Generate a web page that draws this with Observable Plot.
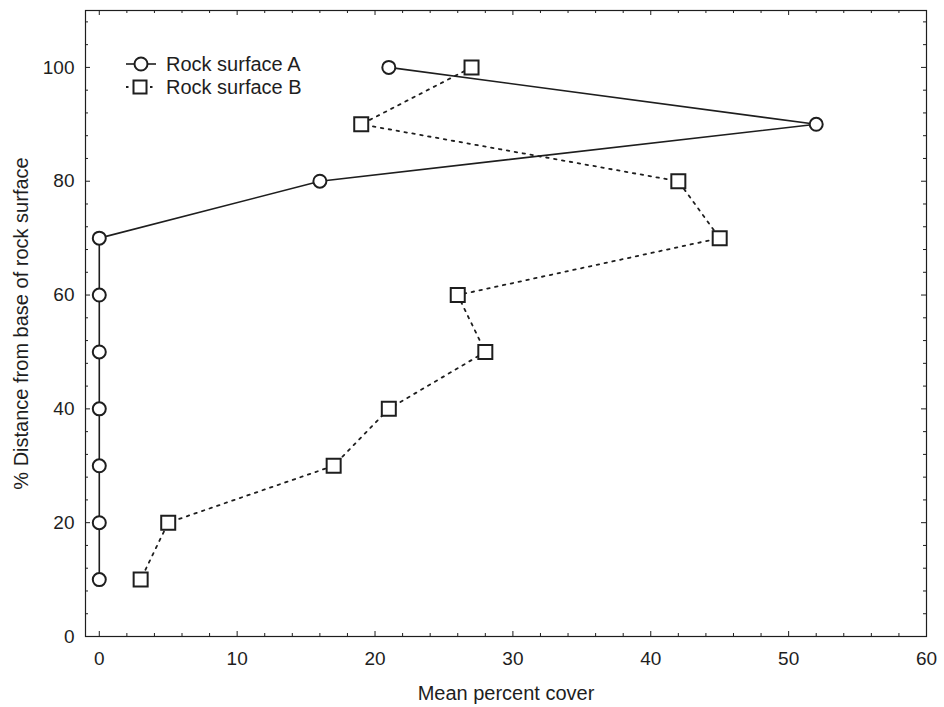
<!DOCTYPE html>
<html><head><meta charset="utf-8">
<script src="https://cdn.jsdelivr.net/npm/d3@7"></script>
<script src="https://cdn.jsdelivr.net/npm/@observablehq/plot@0.6"></script>
<style>
body{margin:0;background:#fff;}
svg{font-family:"Liberation Sans",Arial,Helvetica,sans-serif;}
</style>
</head><body><div id="chart"></div>
<script>
// ---- data ----
const distance = [100, 90, 80, 70, 60, 50, 40, 30, 20, 10];
const coverA   = [21, 52, 16, 0, 0, 0, 0, 0, 0, 0];
const coverB   = [27, 19, 42, 45, 26, 28, 21, 17, 5, 3];
const seriesNames = ["Rock surface A", "Rock surface B"];
const xTicks = [0, 10, 20, 30, 40, 50, 60];
const yTicks = [0, 20, 40, 60, 80, 100];
const xMinor = d3.range(0, 61, 2).filter(v => v % 10 !== 0);
const yMinor = d3.range(0, 110, 4).filter(v => v % 20 !== 0);
const xTitle = "Mean percent cover";
const yTitle = "% Distance from base of rock surface";

// ---- layout ----
const W = 944, H = 707, mL = 85, mR = 18, mT = 10, mB = 71;
const iw = W - mL - mR, ih = H - mT - mB;
const ink = "#1e1e1e";
const major = 5, minor = 3;

const A = distance.map((d, i) => ({x: coverA[i], y: d}));
const B = distance.map((d, i) => ({x: coverB[i], y: d}));

const plot = Plot.plot({
  width: W, height: H,
  marginLeft: mL, marginRight: mR, marginTop: mT, marginBottom: mB,
  style: {fontFamily: '"Liberation Sans", Arial, sans-serif', fontSize: "19px", color: ink, background: "#fff"},
  x: {domain: [-1, 60]},
  y: {domain: [0, 110]},
  marks: [
    Plot.frame({stroke: ink, strokeWidth: 1.2}),
    // inward ticks: bottom & top
    Plot.ruleX(xTicks, {insetTop: ih - major, stroke: ink}),
    Plot.ruleX(xMinor, {insetTop: ih - minor, stroke: ink}),
    Plot.ruleX(xTicks, {insetBottom: ih - major, stroke: ink}),
    Plot.ruleX(xMinor, {insetBottom: ih - minor, stroke: ink}),
    // inward ticks: left & right
    Plot.ruleY(yTicks, {insetRight: iw - major, stroke: ink}),
    Plot.ruleY(yMinor, {insetRight: iw - minor, stroke: ink}),
    Plot.ruleY(yTicks, {insetLeft: iw - major, stroke: ink}),
    Plot.ruleY(yMinor, {insetLeft: iw - minor, stroke: ink}),
    Plot.axisX(xTicks, {anchor: "bottom", tickSize: 0, tickPadding: 15, fontSize: 19, label: null}),
    Plot.axisY(yTicks, {anchor: "left", tickSize: 0, tickPadding: 11, fontSize: 19, label: null}),
    // axis titles
    Plot.text([xTitle], {frameAnchor: "bottom", dy: 57, text: d => d, fontSize: 20, fill: ink,
      textAnchor: "middle", lineAnchor: "middle"}),
    Plot.text([yTitle], {frameAnchor: "left", dx: -64, rotate: -90, text: d => d, fontSize: 20, fill: ink,
      textAnchor: "middle", lineAnchor: "middle"}),
    Plot.line(A, {x: "x", y: "y", stroke: ink, strokeWidth: 1.6}),
    Plot.line(B, {x: "x", y: "y", stroke: ink, strokeWidth: 1.8, strokeDasharray: "2.5,5.5"}),
    Plot.dot(A, {x: "x", y: "y", symbol: "circle", r: 6.5, fill: "#fff", stroke: ink, strokeWidth: 2}),
    Plot.dot(B, {x: "x", y: "y", symbol: "square", r: 7.9, fill: "#fff", stroke: ink, strokeWidth: 2})
  ]
});
document.getElementById("chart").appendChild(plot);

// ---- legend (inside the frame, upper-left) ----
const svg = d3.select(plot);
const lg = svg.append("g").attr("font-size", 20).attr("fill", ink).attr("text-anchor", "start");
const rows = [
  {name: seriesNames[0], cy: 64, dash: null, sym: "circle"},
  {name: seriesNames[1], cy: 87, dash: "2.5,5.5", sym: "square"}
];
rows.forEach(r => {
  lg.append("line").attr("x1", 126).attr("x2", 156).attr("y1", r.cy).attr("y2", r.cy)
    .attr("stroke", ink).attr("stroke-width", r.dash ? 1.8 : 1.6)
    .attr("stroke-dasharray", r.dash);
  if (r.sym === "circle") {
    lg.append("circle").attr("cx", 141).attr("cy", r.cy).attr("r", 6.5)
      .attr("fill", "#fff").attr("stroke", ink).attr("stroke-width", 2);
  } else {
    lg.append("rect").attr("x", 140 - 6.5).attr("y", r.cy - 6.5).attr("width", 13).attr("height", 13)
      .attr("fill", "#fff").attr("stroke", ink).attr("stroke-width", 2);
  }
  lg.append("text").attr("x", 166).attr("y", r.cy + 7).attr("text-anchor", "start").text(r.name);
});
</script>
</body></html>
